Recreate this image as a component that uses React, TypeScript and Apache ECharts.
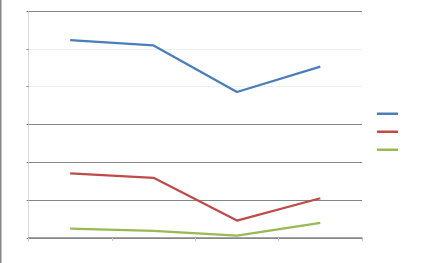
import React, { useEffect, useRef } from "react";
import * as echarts from "echarts";

const categories = ["1", "2", "3", "4"];
const seriesNames = ["Series 1", "Series 2", "Series 3"];
const seriesA = [5.23, 5.09, 3.86, 4.53];
const seriesB = [1.71, 1.59, 0.46, 1.05];
const seriesC = [0.25, 0.19, 0.06, 0.4];
const colors = ["#4A7EBB", "#BE4B48", "#98B954"];

export default function App() {
  const ref = useRef<HTMLDivElement>(null);
  useEffect(() => {
    if (!ref.current) return;
    const chart = echarts.init(ref.current, undefined, { renderer: "svg" });
    const dark = "#868686";
    const light = "#EFEFEF";
    chart.setOption({
      animation: false,
      color: colors,
      grid: { left: 28.5, right: 66, top: 11, bottom: 25, containLabel: false },
      legend: {
        orient: "vertical",
        left: 377,
        top: 112.5,
        padding: 0,
        icon: "rect",
        itemWidth: 21,
        itemHeight: 2.5,
        itemGap: 15.5,
        formatter: () => "",
        selectedMode: false,
        data: seriesNames,
      },
      xAxis: {
        type: "category",
        data: categories,
        boundaryGap: true,
        axisLine: { show: true, lineStyle: { color: dark, width: 1.5 } },
        axisTick: { show: true, length: 3, lineStyle: { color: "#C8C8C8" } },
        axisLabel: { show: false },
        splitLine: { show: false },
      },
      yAxis: {
        type: "value",
        min: 0,
        max: 6,
        interval: 1,
        axisLine: { show: true, lineStyle: { color: "#D9D9D9" } },
        axisTick: { show: true, length: 2, lineStyle: { color: dark } },
        axisLabel: { show: false },
        splitLine: {
          show: true,
          lineStyle: { color: [dark, dark, dark, dark, light, light, dark], width: 1.2 },
        },
      },
      series: [seriesA, seriesB, seriesC].map((d, i) => ({
        name: seriesNames[i],
        type: "line",
        data: d,
        symbol: "none",
        lineStyle: { width: 2.25, color: colors[i] },
      })),
      graphic: [
        {
          type: "line",
          shape: { x1: 0.75, y1: 0, x2: 0.75, y2: 263 },
          style: { stroke: "#888888", lineWidth: 1.5 },
        },
      ],
    });
    return () => chart.dispose();
  }, []);
  return (
    <div
      ref={ref}
      style={{ position: "fixed", left: 0, top: 0, width: 428, height: 263, background: "#fff" }}
    />
  );
}
